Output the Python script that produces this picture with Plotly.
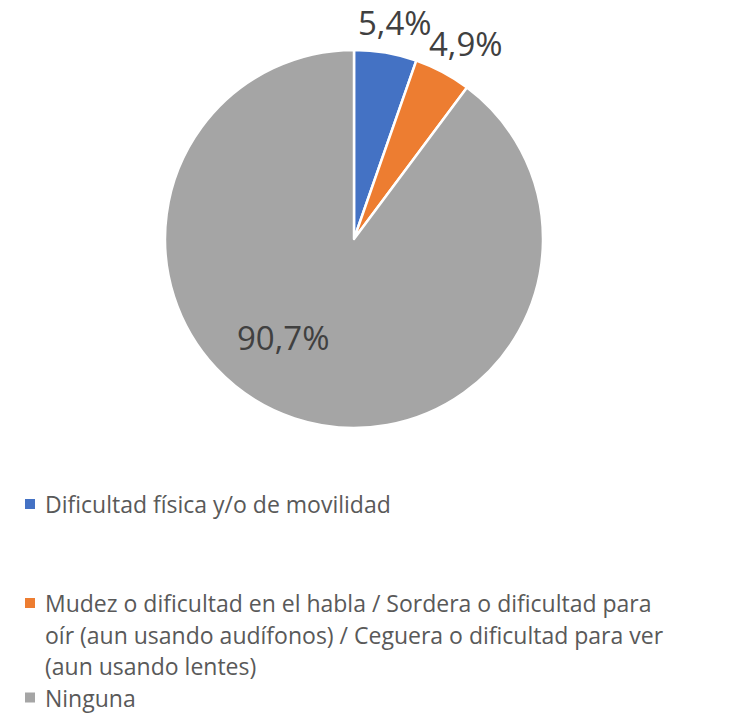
import plotly.graph_objects as go

# Data
categories = [
    "Dificultad física y/o de movilidad",
    "Mudez o dificultad en el habla / Sordera o dificultad para<br>oír (aun usando audífonos) / Ceguera o dificultad para ver<br>(aun usando lentes)",
    "Ninguna",
]
values = [5.4, 4.9, 90.7]
colors = ["#4472C4", "#ED7D31", "#A5A5A5"]

W, H = 733, 715
FONT = "Open Sans, Noto Sans, sans-serif"
TEXT_COLOR = "#404040"
LEGEND_COLOR = "#595959"

fig = go.Figure()
fig.add_trace(go.Pie(
    labels=[c.replace("<br>", " ") for c in categories],
    values=values,
    sort=False,
    direction="clockwise",
    rotation=0,
    marker=dict(colors=colors, line=dict(color="white", width=2.5)),
    textinfo="none",
    domain=dict(x=[165 / W, 543 / W], y=[1 - 428 / H, 1 - 50 / H]),
    showlegend=False,
    hoverinfo="label+percent",
))

annotations = []
shapes = []

# Data labels (pixel centres)
label_pos = [(395, 22), (466, 43), (283, 337)]
for v, (px, py) in zip(values, label_pos):
    annotations.append(dict(
        xref="paper", yref="paper",
        x=px / W, y=1 - py / H,
        xanchor="center", yanchor="middle",
        text=f"{v:.1f}%".replace(".", ","), showarrow=False,
        font=dict(family=FONT, size=33, color=TEXT_COLOR),
    ))

# Custom legend: square swatch + wrapped label lines
legend_rows = [504, 603, 697.5]   # pixel y of the first line of each entry
line_gap = 31.5
for cat, col, y0 in zip(categories, colors, legend_rows):
    shapes.append(dict(
        type="rect", xref="paper", yref="paper",
        x0=25 / W, x1=35 / W,
        y0=1 - (y0 + 5) / H, y1=1 - (y0 - 5) / H,
        fillcolor=col, line=dict(width=0),
    ))
    for i, line in enumerate(cat.split("<br>")):
        annotations.append(dict(
            xref="paper", yref="paper",
            x=43 / W, y=1 - (y0 + i * line_gap) / H,
            xanchor="left", yanchor="middle",
            text=line, showarrow=False,
            font=dict(family=FONT, size=23, color=LEGEND_COLOR),
        ))

fig.update_layout(
    width=W, height=H,
    margin=dict(l=0, r=0, t=0, b=0),
    paper_bgcolor="white",
    plot_bgcolor="white",
    shapes=shapes,
    annotations=annotations,
)

fig.write_html("out.html")
